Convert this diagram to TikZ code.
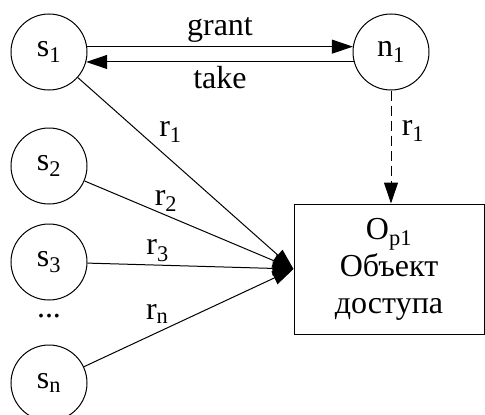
\documentclass[tikz,border=0pt]{standalone}
\usepackage{fontspec}
\newfontfamily\diagfont{Liberation Serif}
\usetikzlibrary{arrows.meta,positioning}

\begin{document}
\begin{tikzpicture}[x=1pt,y=-1pt,line width=1pt,node distance=20pt,
  >={Triangle[length=21pt,width=14pt]}]
\tikzstyle{lbl}=[font=\diagfont\fontsize{32}{37}\selectfont]
\tikzstyle{subj}=[lbl,draw,circle,minimum size=76pt,inner sep=0pt]
\tikzstyle{obj}=[lbl,draw,align=center,minimum width=190pt,minimum height=130pt,inner sep=2pt]
\useasboundingbox (0,0) rectangle (485,415);
\node[subj] (s1) at (49,52) {s\textsubscript{1}};
\node[subj,right=265pt of s1] (n1) {n\textsubscript{1}};
\node[subj,below=37pt of s1] (s2) {s\textsubscript{2}};
\node[subj,below=19pt of s2] (s3) {s\textsubscript{3}};
\node[lbl,below=10pt of s3,inner sep=3pt] (dots) {...};
\node[subj,below=44pt of s3] (sn) {s\textsubscript{n}};
\node[obj,below=113pt of n1,xshift=-2pt] (op) {O\textsubscript{p1}\\Объект\\доступа};

\draw[->] (s1.8) -- node[lbl,above]{grant} (n1.172);
\draw[->] (n1.195) -- node[lbl,below]{take} (s1.-15);
\draw[->,dash pattern=on 10pt off 5pt] (n1) -- node[lbl,pos=0.36,right,xshift=7pt]{r\textsubscript{1}} (op.north -| n1);
\draw[->] (s1) -- node[lbl,pos=0.36,above right]{r\textsubscript{1}} (op.west);
\draw[->] (s2) -- node[lbl,pos=0.39,above]{r\textsubscript{2}} (op.west);
\draw[->] (s3) -- node[lbl,pos=0.34,above]{r\textsubscript{3}} (op.west);
\draw[->] (sn) -- node[lbl,pos=0.35,above,yshift=5pt]{r\textsubscript{n}} (op.west);
\end{tikzpicture}
\end{document}
